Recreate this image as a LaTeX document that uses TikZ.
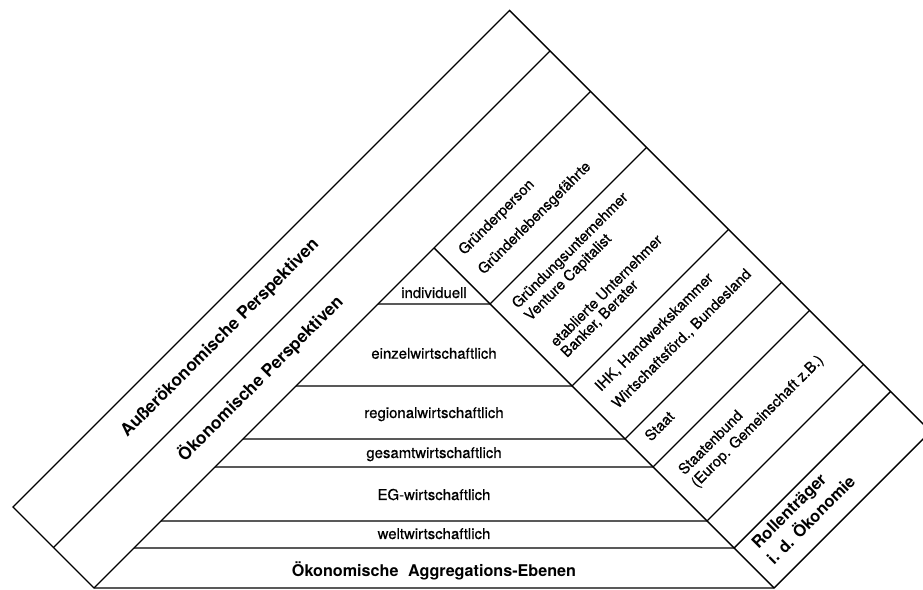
\documentclass[tikz,border=0pt]{standalone}
\usepackage{fontspec}
\setmainfont{TeX Gyre Heros}
\newfontfamily\mittel{TeX Gyre Heros}[FakeBold=0.6]

\begin{document}
\begin{tikzpicture}[x=0.02cm,y=-0.02cm,line width=0.8pt,
    ebene/.style={anchor=base,inner sep=0pt,font=\mittel\fontsize{8.5}{10}\selectfont},
    rolle/.style={anchor=base west,inner sep=0pt,rotate=45,font=\mittel\fontsize{8.4}{10}\selectfont},
    perspektive/.style={anchor=base,inner sep=0pt,rotate=45,font=\fontsize{9.8}{11}\selectfont\bfseries}]
    \useasboundingbox (0,0) rectangle (923,590);
    \clip (0,0) rectangle (923,590);
    % Eckpunkte
    \coordinate (spitze) at (509.5,10.5);
    \coordinate (rechts) at (930.5,431.5);
    \coordinate (untenrechts) at (774,588);
    \coordinate (untenlinks) at (94,588);
    \coordinate (links) at (13,507);
    \coordinate (ebenenspitze) at (434,248);
    % Umriss und Perspektiven-Streifen
    \draw (spitze)--(rechts)--(untenrechts)--(untenlinks)--(links)--cycle;
    \draw (550,51)--(53.5,547.5);
    \draw (590.5,91.5)--(untenlinks);
    \draw (ebenenspitze)--(untenrechts);
    % Aggregations-Ebenen und Rollen-Streifen
    \draw (378,304)--(490,304)--(646.5,147.5);
    \draw (296,386)--(572,386)--(728.5,229.5);
    \draw (243,439)--(625,439)--(781.5,282.5);
    \draw (215,467)--(653,467)--(809.5,310.5);
    \draw (161,521)--(707,521)--(863.5,364.5);
    \draw (134,548)--(734,548)--(890.5,391.5);
    % Perspektiven
    \node[perspektive] (ausser) at (223.5,341.5) {Außerökonomische Perspektiven};
    \node[perspektive] (oekon) at (264.5,382.5) {Ökonomische Perspektiven};
    % Ebenen
    \node[ebene] (indiv) at (434,298) {individuell};
    \node[ebene] (einzel) at (434,358.7) {einzelwirtschaftlich};
    \node[ebene] (regional) at (434,418) {regionalwirtschaftlich};
    \node[ebene] (gesamt) at (434,458) {gesamtwirtschaftlich};
    \node[ebene] (eg) at (434,500) {EG-wirtschaftlich};
    \node[ebene] (welt) at (434,539) {weltwirtschaftlich};
    \node[ebene,font=\fontsize{9.2}{11}\selectfont\bfseries] (aggr) at (434,577) {Ökonomische\hspace{0.6em}Aggregations-Ebenen};
    % Rollentraeger
    \node[rolle] (gp) at (464,256) {Gründerperson};
    \node[rolle] (glg) at (483.5,275.5) {Gründerlebensgefährte};
    \node[rolle] (gu) at (517.5,309.5) {Gründungsunternehmer};
    \node[rolle] (vc) at (530,322) {Venture Capitalist};
    \node[rolle] (eu) at (556,348) {etablierte Unternehmer};
    \node[rolle] (bb) at (566.5,358.5) {Banker, Berater};
    \node[rolle] (ihk) at (600.5,392.5) {IHK, Handwerkskammer};
    \node[rolle] (wf) at (617.5,409.5) {Wirtschaftsförd., Bundesland};
    \node[rolle] (staat) at (650.5,442.5) {Staat};
    \node[rolle] (sb) at (684,476) {Staatenbund};
    \node[rolle] (eur) at (696.5,488.5) {(Europ. Gemeinschaft z.B.)};
    \node[rolle,font=\fontsize{9.4}{11}\selectfont\bfseries] (rt) at (758,550) {Rollenträger};
    \node[rolle,font=\fontsize{9.4}{11}\selectfont\bfseries] (ido) at (773.5,565.5) {i. d. Ökonomie};
\end{tikzpicture}
\end{document}
